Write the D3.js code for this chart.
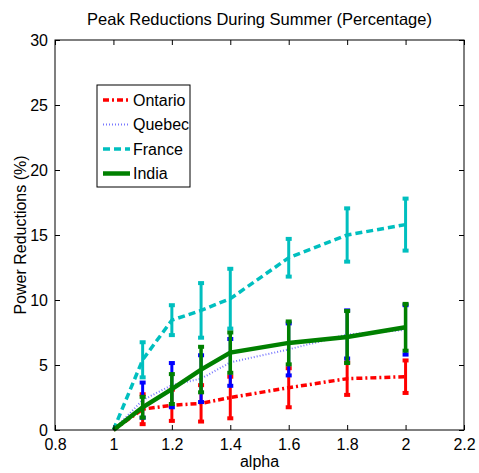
<!DOCTYPE html>
<html>
<head>
<meta charset="utf-8">
<script src="https://cdn.jsdelivr.net/npm/d3@7"></script>
<style>
  body { margin: 0; background: #fff; }
  text { font-family: "Liberation Sans", Arial, Helvetica, sans-serif; fill: #000; }
</style>
</head>
<body>
<div id="chart"></div>
<script>
// x values (alpha)
const alphaVals = [1, 1.1, 1.2, 1.3, 1.4, 1.6, 1.8, 2.0]
// mean reductions (%) and error half-widths per region
const ontarioMean = [0, 1.6, 1.9, 2.05, 2.5, 3.25, 3.95, 4.1]
const ontarioErr = [0, 1.15, 1.2, 1.4, 1.6, 1.5, 1.25, 1.25]
const quebecMean = [0, 2.3, 3.45, 3.95, 5.2, 6.2, 7.35, 7.7]
const quebecErr = [0, 1.35, 1.7, 1.8, 1.8, 2.0, 1.85, 1.9]
const franceMean = [0, 5.4, 8.45, 9.2, 10.1, 13.25, 15.0, 15.8]
const franceErr = [0, 1.35, 1.15, 2.1, 2.3, 1.45, 2.05, 2.0]
const indiaMean = [0, 1.75, 3.15, 4.65, 5.95, 6.7, 7.15, 7.9]
const indiaErr = [0, 0.8, 1.15, 1.75, 1.55, 1.65, 2.0, 1.8]

const xTicks = [0.8, 1, 1.2, 1.4, 1.6, 1.8, 2, 2.2]
const yTicks = [0, 5, 10, 15, 20, 25, 30]
const seriesNames = ["Ontario", "Quebec", "France", "India"]

let width = 479, height = 473
let box = { left: 55, right: 464, top: 40, bottom: 430 }

let svg = d3.select("#chart").append("svg")
    .attr("width", width)
    .attr("height", height)

let x = d3.scaleLinear().domain([0.8, 2.2]).range([box.left, box.right])
let y = d3.scaleLinear().domain([0, 30]).range([box.bottom, box.top])

// series styles, matlab-ish
let series = [
    { name: seriesNames[0], mean: ontarioMean, err: ontarioErr, color: "#ff0000", lineColor: "#ff0000", lw: 3.5, dash: "6,3,2,3", barW: 3 },
    { name: seriesNames[1], mean: quebecMean, err: quebecErr, color: "#0000ff", lineColor: "#7878ff", lw: 2, dash: "1,2", barW: 3 },
    { name: seriesNames[2], mean: franceMean, err: franceErr, color: "#00bfbf", lineColor: "#00bfbf", lw: 3.5, dash: "7,4", barW: 3 },
    { name: seriesNames[3], mean: indiaMean, err: indiaErr, color: "#008000", lineColor: "#008000", lw: 4.5, dash: null, barW: 3.5 }
]

// title
svg.append("text")
    .attr("x", (box.left + box.right) / 2)
    .attr("y", 25)
    .attr("text-anchor", "middle")
    .style("font-size", "16.5px")
    .text("Peak Reductions During Summer (Percentage)")

let plot = svg.append("g")

let line = d3.line()
    .x((d, i) => x(alphaVals[i]))
    .y(d => y(d))

series.forEach(function (s) {
    let g = plot.append("g").attr("class", "series")
    g.append("path")
        .datum(s.mean)
        .attr("d", line)
        .attr("fill", "none")
        .attr("stroke", s.lineColor)
        .attr("stroke-width", s.lw)
        .attr("stroke-dasharray", s.dash)

    let bars = alphaVals.map((a, i) => ({ a: a, m: s.mean[i], e: s.err[i] })).filter(d => d.e > 0)
    g.selectAll(".ebar")
        .data(bars)
        .enter()
        .append("line")
        .attr("x1", d => x(d.a))
        .attr("x2", d => x(d.a))
        .attr("y1", d => y(d.m - d.e))
        .attr("y2", d => y(d.m + d.e))
        .attr("stroke", s.color)
        .attr("stroke-width", s.barW)
    // caps top and bottom
    let caps = []
    bars.forEach(d => { caps.push({ a: d.a, v: d.m - d.e }); caps.push({ a: d.a, v: d.m + d.e }) })
    g.selectAll(".ecap")
        .data(caps)
        .enter()
        .append("rect")
        .attr("x", d => x(d.a) - 3)
        .attr("y", d => y(d.v) - 2)
        .attr("width", 6)
        .attr("height", 4)
        .attr("fill", s.color)
})

// axes box + ticks (inward, mirrored like matlab)
let axes = svg.append("g")
axes.append("rect")
    .attr("x", box.left)
    .attr("y", box.top)
    .attr("width", box.right - box.left)
    .attr("height", box.bottom - box.top)
    .attr("fill", "none")
    .attr("stroke", "#000")
    .attr("stroke-width", 1)

let xAxis = axes.append("g")
    .attr("transform", "translate(0," + box.bottom + ")")
    .call(d3.axisBottom(x).tickValues(xTicks).tickSizeInner(-5).tickSizeOuter(0).tickPadding(9).tickFormat(d3.format("")))
let xAxisTop = axes.append("g")
    .attr("transform", "translate(0," + box.top + ")")
    .call(d3.axisTop(x).tickValues(xTicks).tickSizeInner(-5).tickSizeOuter(0).tickFormat(""))
let yAxis = axes.append("g")
    .attr("transform", "translate(" + box.left + ",0)")
    .call(d3.axisLeft(y).tickValues(yTicks).tickSizeInner(-5).tickSizeOuter(0).tickPadding(7))
let yAxisRight = axes.append("g")
    .attr("transform", "translate(" + box.right + ",0)")
    .call(d3.axisRight(y).tickValues(yTicks).tickSizeInner(-5).tickSizeOuter(0).tickFormat(""))

axes.selectAll(".domain").remove()
axes.selectAll(".tick line").attr("stroke", "#000")
axes.selectAll(".tick text")
    .style("font-size", "16px")
    .style("font-family", "'Liberation Sans', Arial, sans-serif")
    .attr("fill", "#000")

// axis labels
svg.append("text")
    .attr("x", (box.left + box.right) / 2)
    .attr("y", 467)
    .attr("text-anchor", "middle")
    .style("font-size", "16px")
    .text("alpha")

svg.append("text")
    .attr("transform", "translate(26," + (box.top + box.bottom) / 2 + ") rotate(-90)")
    .attr("text-anchor", "middle")
    .style("font-size", "16px")
    .text("Power Reductions (%)")

// legend
let legend = svg.append("g").attr("transform", "translate(97,85)")
legend.append("rect")
    .attr("width", 93)
    .attr("height", 102)
    .attr("fill", "#fff")
    .attr("stroke", "#000")
    .attr("stroke-width", 1)

let items = legend.selectAll(".item")
    .data(series)
    .enter()
    .append("g")
    .attr("class", "item")
    .attr("transform", (d, i) => "translate(0," + (15 + i * 24.5) + ")")
items.append("line")
    .attr("x1", 6)
    .attr("x2", 33)
    .attr("stroke", d => d.lineColor)
    .attr("stroke-width", d => d.lw)
    .attr("stroke-dasharray", d => d.dash)
items.append("text")
    .attr("x", 36)
    .attr("dy", "0.36em")
    .style("font-size", "16px")
    .text(d => d.name)
</script>
</body>
</html>
